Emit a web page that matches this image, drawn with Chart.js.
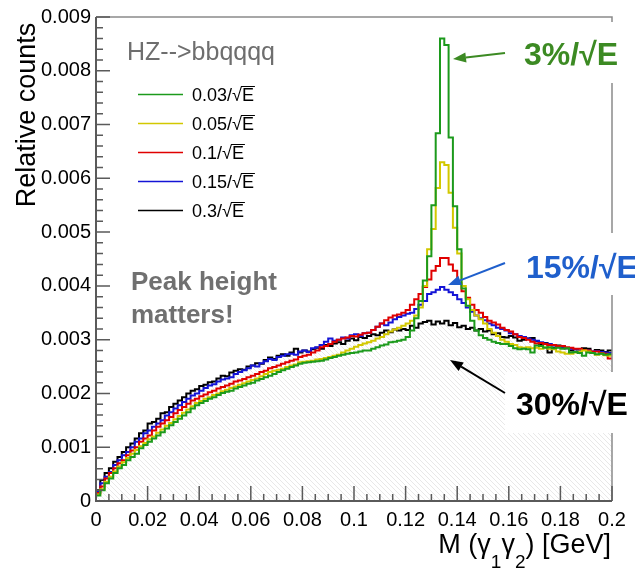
<!DOCTYPE html>
<html>
<head>
<meta charset="utf-8">
<script src="https://cdn.jsdelivr.net/npm/chart.js@4"></script>
<style>
  html, body { margin: 0; padding: 0; background: #fff; }
  #wrap { width: 635px; height: 574px; }
</style>
</head>
<body>
<div id="wrap"><canvas id="massChart" width="635" height="574"></canvas></div>
<script>
// --- DATA ---
// diphoton mass histogram, 120 bins from 0 to 0.2 GeV
const xMin = 0, xMax = 0.2;
const yUnit = 0.001; // the arrays below are written in units of 1e-3

const seriesLabels = ['0.03/\u221AE', '0.05/\u221AE', '0.1/\u221AE', '0.15/\u221AE', '0.3/\u221AE'];
const seriesColors = ['#1c9a1c', '#d2c800', '#e00000', '#1414d6', '#000000'];

const res003 = [
  0.10,0.20,0.33,0.42,0.52,0.61,0.67,0.76,0.82,0.88,
  0.98,1.04,1.10,1.16,1.22,1.28,1.35,1.41,1.47,1.53,
  1.59,1.65,1.72,1.78,1.82,1.86,1.90,1.93,1.97,2.01,
  2.03,2.05,2.09,2.12,2.15,2.18,2.20,2.24,2.27,2.30,
  2.33,2.36,2.40,2.43,2.46,2.49,2.52,2.55,2.57,2.58,
  2.59,2.60,2.61,2.63,2.66,2.68,2.70,2.72,2.74,2.75,
  2.76,2.78,2.80,2.80,2.83,2.86,2.89,2.91,2.95,2.96,
  2.98,3.00,3.05,3.17,3.40,3.72,4.10,4.55,5.50,6.84,
  8.60,8.48,6.76,5.48,4.68,3.95,3.63,3.35,3.17,3.08,
  3.03,3.00,2.96,2.94,2.92,2.92,2.88,2.84,2.82,2.83,
  2.82,2.76,2.89,2.88,2.85,2.86,2.84,2.85,2.83,2.84,
  2.76,2.77,2.75,2.70,2.76,2.75,2.73,2.74,2.72,2.73
];
const res005 = [
  0.12,0.22,0.36,0.45,0.55,0.64,0.72,0.80,0.88,0.95,
  1.02,1.08,1.15,1.20,1.27,1.33,1.40,1.45,1.52,1.58,
  1.64,1.70,1.76,1.82,1.86,1.90,1.93,1.97,2.00,2.04,
  2.07,2.10,2.13,2.16,2.19,2.22,2.25,2.28,2.32,2.36,
  2.40,2.42,2.44,2.46,2.49,2.52,2.54,2.58,2.59,2.60,
  2.61,2.63,2.64,2.66,2.68,2.70,2.72,2.76,2.80,2.83,
  2.87,2.90,2.93,2.95,2.98,3.02,3.05,3.10,3.15,3.19,
  3.22,3.26,3.30,3.35,3.45,3.60,4.00,4.68,5.06,5.82,
  6.30,6.25,5.73,5.08,4.60,4.00,3.75,3.55,3.45,3.38,
  3.30,3.20,3.13,3.07,3.00,2.96,2.92,2.90,2.86,2.85,
  2.86,2.84,2.85,2.83,2.86,2.83,2.82,2.78,2.76,2.74,
  2.74,2.76,2.78,2.80,2.78,2.75,2.72,2.74,2.71,2.70
];
const res010 = [
  0.15,0.27,0.42,0.52,0.61,0.70,0.76,0.85,0.94,1.00,
  1.10,1.16,1.22,1.31,1.38,1.44,1.50,1.56,1.63,1.69,
  1.75,1.81,1.87,1.90,1.95,1.98,2.02,2.05,2.09,2.12,
  2.15,2.18,2.22,2.24,2.27,2.30,2.33,2.36,2.40,2.42,
  2.47,2.49,2.52,2.55,2.58,2.61,2.63,2.68,2.70,2.72,
  2.76,2.80,2.86,2.88,2.92,2.96,3.00,3.02,3.04,3.07,
  3.06,3.09,3.12,3.13,3.18,3.24,3.30,3.36,3.41,3.45,
  3.47,3.50,3.55,3.65,3.75,3.85,3.98,4.12,4.28,4.37,
  4.52,4.52,4.40,4.28,4.05,3.90,3.78,3.65,3.55,3.50,
  3.42,3.35,3.32,3.28,3.22,3.18,3.15,3.10,3.05,3.03,
  3.00,2.96,2.93,2.94,2.92,2.90,2.90,2.88,2.88,2.86,
  2.85,2.83,2.83,2.81,2.80,2.78,2.78,2.75,2.74,2.65
];
const res015 = [
  0.17,0.33,0.45,0.54,0.67,0.76,0.85,0.91,1.00,1.10,
  1.16,1.26,1.31,1.38,1.44,1.50,1.59,1.65,1.72,1.78,
  1.84,1.90,1.96,2.00,2.05,2.10,2.15,2.17,2.22,2.26,
  2.28,2.30,2.36,2.40,2.43,2.47,2.52,2.50,2.56,2.60,
  2.64,2.62,2.68,2.70,2.73,2.74,2.72,2.78,2.80,2.77,
  2.84,2.86,2.90,2.96,3.02,2.98,3.00,3.04,3.02,3.08,
  3.10,3.07,3.12,3.13,3.18,3.24,3.30,3.27,3.32,3.38,
  3.42,3.45,3.48,3.50,3.57,3.65,3.72,3.85,3.88,3.93,
  3.98,3.93,3.88,3.83,3.75,3.68,3.60,3.52,3.45,3.40,
  3.36,3.30,3.27,3.22,3.20,3.17,3.12,3.10,3.07,3.05,
  3.02,3.00,2.98,2.95,2.93,2.92,2.89,2.88,2.86,2.84,
  2.83,2.82,2.80,2.81,2.80,2.78,2.79,2.77,2.76,2.75
];
const res030 = [
  0.20,0.39,0.52,0.61,0.73,0.82,0.91,1.00,1.07,1.16,
  1.26,1.31,1.44,1.47,1.53,1.63,1.65,1.75,1.81,1.87,
  1.93,2.00,2.05,2.08,2.14,2.16,2.21,2.22,2.28,2.33,
  2.32,2.39,2.42,2.45,2.44,2.50,2.52,2.56,2.55,2.62,
  2.67,2.64,2.70,2.73,2.70,2.76,2.83,2.76,2.80,2.78,
  2.82,2.85,2.83,2.90,2.88,2.93,2.95,2.92,2.98,3.02,
  2.99,3.05,3.03,3.07,3.10,3.08,3.13,3.17,3.14,3.19,
  3.17,3.20,3.18,3.26,3.22,3.30,3.33,3.35,3.28,3.34,
  3.30,3.35,3.27,3.31,3.23,3.26,3.20,3.22,3.17,3.20,
  3.15,3.17,3.10,3.12,3.05,3.04,3.07,3.04,2.98,3.00,
  3.02,3.03,2.97,2.92,2.94,2.76,2.85,2.89,2.88,2.84,
  2.80,2.82,2.79,2.84,2.83,2.76,2.81,2.80,2.77,2.80
];
const seriesValues = [res003, res005, res010, res015, res030];

const xTickValues = [0, 0.02, 0.04, 0.06, 0.08, 0.1, 0.12, 0.14, 0.16, 0.18, 0.2];
const yTickValues = [0, 0.001, 0.002, 0.003, 0.004, 0.005, 0.006, 0.007, 0.008, 0.009];

// --- HELPERS ---
// each bin becomes a point at its left edge, plus a closing point at xMax
function toSteps(vals) {
  const w = (xMax - xMin) / vals.length;
  const pts = vals.map((v, i) => ({ x: xMin + i * w, y: v * yUnit }));
  pts.push({ x: xMax, y: vals[vals.length - 1] * yUnit });
  return pts;
}

function makeHatch() {
  const c = document.createElement('canvas');
  c.width = 5; c.height = 5;
  const g = c.getContext('2d');
  g.strokeStyle = 'rgb(222,222,222)';
  g.lineWidth = 0.7;
  g.beginPath();
  g.moveTo(-1, -1); g.lineTo(6, 6);
  g.moveTo(-1, 4); g.lineTo(1, 6);
  g.moveTo(4, -1); g.lineTo(6, 1);
  g.stroke();
  return g.createPattern(c, 'repeat');
}

const fmt = v => String(Number(v.toFixed(4)));
const FONT = '"Liberation Sans", Arial, Helvetica, sans-serif';
Chart.defaults.font.family = FONT;

// --- ROOT-like frame, inside ticks, legend and notes ---
const decorations = {
  id: 'decorations',
  afterDatasetsDraw(chart) {
    const { ctx, chartArea: a, scales } = chart;
    const sx = scales.x, sy = scales.y;
    ctx.save();
    // top and right border
    ctx.strokeStyle = '#8a8a8a';
    ctx.lineWidth = 1.5;
    ctx.beginPath();
    ctx.moveTo(a.left, a.top); ctx.lineTo(a.right, a.top); ctx.lineTo(a.right, a.bottom);
    ctx.stroke();
    // axes
    ctx.strokeStyle = '#5a5a5a';
    ctx.lineWidth = 2;
    ctx.beginPath();
    ctx.moveTo(a.left, a.top); ctx.lineTo(a.left, a.bottom); ctx.lineTo(a.right, a.bottom);
    ctx.stroke();
    // ticks pointing into the frame
    ctx.lineWidth = 1.5;
    ctx.beginPath();
    for (let k = 0; k <= 40; k++) {
      const px = sx.getPixelForValue(k * 0.005);
      const len = k % 4 === 0 ? 15 : 7;
      ctx.moveTo(px, a.bottom); ctx.lineTo(px, a.bottom - len);
    }
    for (let k = 0; k <= 45; k++) {
      const py = sy.getPixelForValue(k * 0.0002);
      const len = k % 5 === 0 ? 14 : 7;
      ctx.moveTo(a.left, py); ctx.lineTo(a.left + len, py);
    }
    ctx.stroke();
    ctx.restore();
  },
  afterDraw(chart) {
    const { ctx } = chart;
    ctx.save();

    // axis titles
    ctx.fillStyle = '#000';
    ctx.font = '27px ' + FONT;
    ctx.save();
    ctx.translate(35, 115);
    ctx.rotate(-Math.PI / 2);
    ctx.textAlign = 'center';
    ctx.fillText('Relative counts', 0, 0);
    ctx.restore();

    const parts = [['M (\u03B3', 0], ['1', 1], ['\u03B3', 0], ['2', 1], [') [GeV]', 0]];
    let total = 0;
    parts.forEach(p => {
      ctx.font = (p[1] ? '19px ' : '27px ') + FONT;
      total += ctx.measureText(p[0]).width;
    });
    let tx = 611 - total;
    parts.forEach(p => {
      ctx.font = (p[1] ? '19px ' : '27px ') + FONT;
      ctx.fillText(p[0], tx, p[1] ? 568 : 553);
      tx += ctx.measureText(p[0]).width;
    });

    // legend
    ctx.fillStyle = '#6e6e6e';
    ctx.font = '25px ' + FONT;
    ctx.fillText('HZ-->bbqqqq', 127, 60);
    ctx.font = '18px ' + FONT;
    seriesLabels.forEach((lab, i) => {
      const cy = 94.5 + i * 29;
      ctx.strokeStyle = seriesColors[i];
      ctx.lineWidth = 1.5;
      ctx.beginPath(); ctx.moveTo(138, cy); ctx.lineTo(183, cy); ctx.stroke();
      ctx.fillStyle = '#000';
      ctx.fillText(lab, 192, cy + 6.5);
      const wPre = ctx.measureText(lab.slice(0, -1)).width;
      const wE = ctx.measureText('E').width;
      ctx.strokeStyle = '#000';
      ctx.lineWidth = 1;
      ctx.beginPath();
      ctx.moveTo(192 + wPre - 1, cy - 8); ctx.lineTo(192 + wPre + wE + 1, cy - 8);
      ctx.stroke();
    });

    // note
    ctx.fillStyle = '#707070';
    ctx.font = 'bold 26px ' + FONT;
    ctx.fillText('Peak height', 131, 290);
    ctx.fillText('matters!', 131, 323);

    // white boxes behind the big labels
    ctx.fillStyle = '#fff';
    ctx.fillRect(515, 22, 120, 61);
    ctx.fillRect(515, 233, 120, 62);
    ctx.fillRect(505, 372, 130, 61);

    ctx.font = 'bold 32px ' + FONT;
    ctx.fillStyle = '#3c8a23';
    ctx.fillText('3%/\u221AE', 524, 65);
    ctx.fillStyle = '#1f5fcc';
    ctx.fillText('15%/\u221AE', 526, 278);
    ctx.fillStyle = '#000';
    ctx.fillText('30%/\u221AE', 516, 415);

    arrow(ctx, 505, 53, 453, 59, '#3c8a23');
    arrow(ctx, 505, 263, 448, 285, '#1f5fcc');
    arrow(ctx, 505, 393, 450, 360, '#000');
    ctx.restore();
  }
};

function arrow(ctx, x1, y1, x2, y2, col) {
  const ang = Math.atan2(y2 - y1, x2 - x1);
  const hl = 13, hw = 5;
  ctx.strokeStyle = col; ctx.fillStyle = col; ctx.lineWidth = 2;
  ctx.beginPath();
  ctx.moveTo(x1, y1);
  ctx.lineTo(x2 - hl * Math.cos(ang), y2 - hl * Math.sin(ang));
  ctx.stroke();
  ctx.beginPath();
  ctx.moveTo(x2, y2);
  ctx.lineTo(x2 - hl * Math.cos(ang) + hw * Math.sin(ang), y2 - hl * Math.sin(ang) - hw * Math.cos(ang));
  ctx.lineTo(x2 - hl * Math.cos(ang) - hw * Math.sin(ang), y2 - hl * Math.sin(ang) + hw * Math.cos(ang));
  ctx.closePath();
  ctx.fill();
}

// --- BUILD THE CHART ---
const datasets = seriesValues.map((vals, i) => ({
  label: seriesLabels[i],
  data: toSteps(vals),
  borderColor: seriesColors[i],
  borderWidth: 2,
  stepped: 'before',
  fill: false,
  pointRadius: 0
}));
// hatched area under the widest-resolution curve, drawn first (lowest)
datasets.push({
  label: 'hatch',
  data: toSteps(res030),
  borderWidth: 0,
  borderColor: 'rgba(0,0,0,0)',
  backgroundColor: makeHatch(),
  stepped: 'before',
  fill: 'origin',
  pointRadius: 0
});

new Chart(document.getElementById('massChart'), {
  type: 'line',
  data: { datasets },
  plugins: [decorations],
  options: {
    responsive: false,
    animation: false,
    layout: { padding: { top: 15, right: 23, left: 0, bottom: 0 } },
    plugins: { legend: { display: false }, tooltip: { enabled: false } },
    scales: {
      x: {
        type: 'linear', min: xMin, max: xMax,
        afterBuildTicks: s => { s.ticks = xTickValues.map(v => ({ value: v })); },
        afterFit: s => { s.height = 73; },
        grid: { display: false, drawTicks: false },
        border: { display: false },
        ticks: { color: '#000', font: { size: 20 }, padding: 7, maxRotation: 0, autoSkip: false, callback: v => fmt(v) }
      },
      y: {
        type: 'linear', min: 0, max: 0.009,
        afterBuildTicks: s => { s.ticks = yTickValues.map(v => ({ value: v })); },
        afterFit: s => { s.width = 96; },
        grid: { display: false, drawTicks: false },
        border: { display: false },
        ticks: { color: '#000', font: { size: 20 }, padding: 5, autoSkip: false, callback: v => fmt(v) }
      }
    }
  }
});
</script>
</body>
</html>
